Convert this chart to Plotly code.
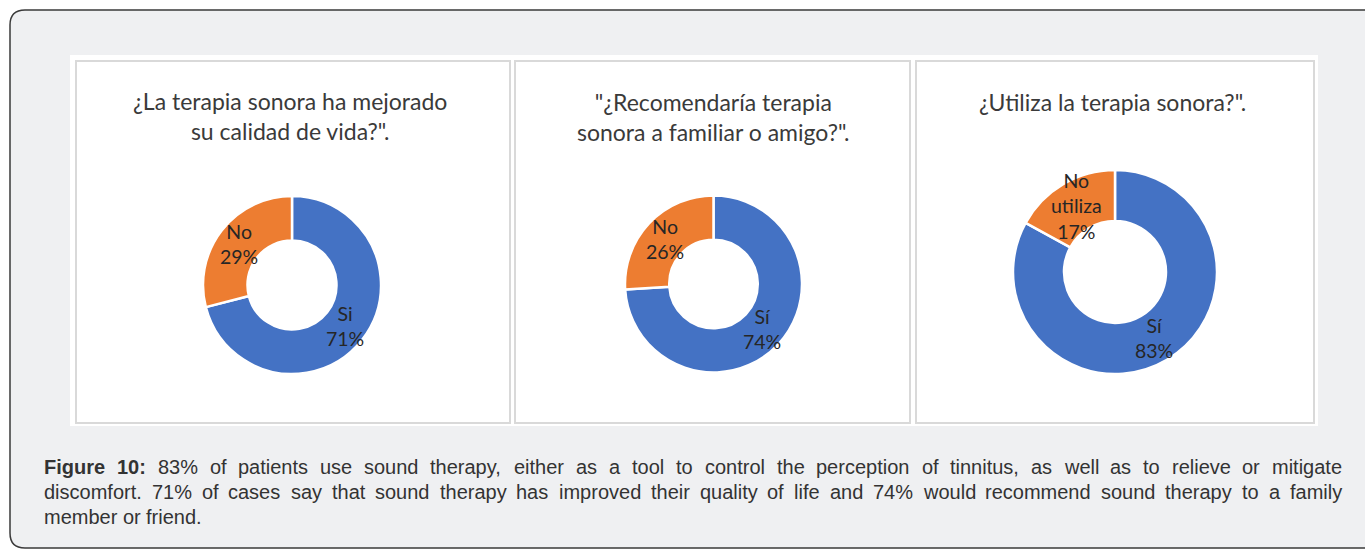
import math
import plotly.graph_objects as go

W, H = 1365, 550

# ---------------- data ----------------
chart_titles = [
    '¿La terapia sonora ha mejorado<br>su calidad de vida?".',
    '"¿Recomendaría terapia<br>sonora a familiar o amigo?".',
    '¿Utiliza la terapia sonora?".',
]
labels_1 = ['Si', 'No']
values_1 = [71, 29]
labels_2 = ['Sí', 'No']
values_2 = [74, 26]
labels_3 = ['Sí', 'No<br>utiliza']
values_3 = [83, 17]
slice_colors = ['#4472C4', '#ED7D31']

caption_bold = 'Figure 10:'
caption_lines = [
    '83% of patients use sound therapy, either as a tool to control the perception of tinnitus, as well as to relieve or mitigate',
    'discomfort. 71% of cases say that sound therapy has improved their quality of life and 74% would recommend sound therapy to a family',
    'member or friend.',
]

# ---------------- helpers ----------------
def px_x(x):
    return x / W

def px_y(y):
    return 1 - y / H

# Liberation Sans (Arial metrics) advance widths, per 1000 em
REG = {' ': 278, '%': 889, ',': 278, '.': 278, ':': 278,
       'a': 556, 'b': 556, 'c': 500, 'd': 556, 'e': 556, 'f': 278, 'g': 556,
       'h': 556, 'i': 222, 'j': 222, 'k': 500, 'l': 222, 'm': 833, 'n': 556,
       'o': 556, 'p': 556, 'q': 556, 'r': 333, 's': 500, 't': 278, 'u': 556,
       'v': 500, 'w': 722, 'x': 500, 'y': 500, 'z': 500, 'F': 611}
BOLD = {' ': 278, ':': 333, 'F': 611, 'i': 278, 'g': 611, 'u': 611,
        'r': 389, 'e': 556}

def tw(s, bold, fs):
    t = BOLD if bold else REG
    return sum(t.get(c, 556) for c in s) / 1000 * fs

fig = go.Figure()
fig.add_trace(go.Scatter(x=[], y=[], showlegend=False, hoverinfo='skip'))

shapes = []
# outer card
x0, y0, x1, y1, r = 10, 10, 1385, 548, 15
path = (f'M {x0 + r},{y0} L {x1 - r},{y0} Q {x1},{y0} {x1},{y0 + r} '
        f'L {x1},{y1 - r} Q {x1},{y1} {x1 - r},{y1} L {x0 + r},{y1} '
        f'Q {x0},{y1} {x0},{y1 - r} L {x0},{y0 + r} Q {x0},{y0} {x0 + r},{y0} Z')
shapes.append(dict(type='path', path=path, xref='x', yref='y', layer='below',
                   fillcolor='#eff0f2', line=dict(color='#3a3a3a', width=1.5)))
# white image area
shapes.append(dict(type='rect', x0=70, y0=55, x1=1318, y1=426, xref='x', yref='y',
                   layer='below', fillcolor='#ffffff', line=dict(width=0)))
# panels
panels = [(76, 61, 510, 423), (515, 61, 910, 423), (916, 61, 1314, 423)]
for (a, b, c, d) in panels:
    shapes.append(dict(type='rect', x0=a, y0=b, x1=c, y1=d, xref='x', yref='y',
                       layer='below', fillcolor='#ffffff',
                       line=dict(color='#d9d9d9', width=2)))

annotations = []

# donuts
HOLE = 0.5
LABEL_FS = 19.5
donut_boxes = [(203, 195, 381, 375), (625, 195, 802, 373), (1013, 170, 1217, 374)]
series = [(labels_1, values_1), (labels_2, values_2), (labels_3, values_3)]
for (lab, val), (a, b, c, d) in zip(series, donut_boxes):
    fig.add_trace(go.Pie(
        labels=lab, values=val, hole=HOLE, sort=False, direction='clockwise',
        rotation=0, marker=dict(colors=slice_colors, line=dict(color='white', width=2.5)),
        textinfo='none',
        domain=dict(x=[px_x(a), px_x(c)], y=[px_y(d), px_y(b)]),
        showlegend=False, hoverinfo='skip'))
    # data labels at the middle of each ring segment
    cx, cy = (a + c) / 2, (b + d) / 2
    R = min(c - a, d - b) / 2
    rm = R * (1 + HOLE) / 2
    total = sum(val)
    cum = 0
    for l, v in zip(lab, val):
        f = (cum + v / 2) / total
        cum += v
        th = 2 * math.pi * f
        annotations.append(dict(
            x=cx + rm * math.sin(th), y=cy - rm * math.cos(th), xref='x', yref='y',
            text=f'{l}<br>{round(100 * v / total)}%', showarrow=False,
            xanchor='center', yanchor='middle', align='center',
            font=dict(family='Lato', size=LABEL_FS, color='#262626')))

title_pos = [(290, 116), (713, 117), (1112, 102)]
for t, (x, y) in zip(chart_titles, title_pos):
    annotations.append(dict(x=x, y=y, xref='x', yref='y', text=t, showarrow=False,
                            xanchor='center', yanchor='middle', align='center',
                            font=dict(family='Lato', size=23, color='#3a3a3a')))

# caption (justified)
FS = 20
left, right = 43, 1341
baselines = [474, 499, 524]
for i, line in enumerate(caption_lines):
    words = [(w, False) for w in line.split()]
    if i == 0:
        words = [(w, True) for w in caption_bold.split()] + words
    widths = [tw(w, b, FS) for w, b in words]
    if i < len(caption_lines) - 1:
        gap = (right - left - sum(widths)) / (len(words) - 1)
    else:
        gap = tw(' ', False, FS)
    x = left
    for (w, b), wd in zip(words, widths):
        annotations.append(dict(x=x, y=baselines[i] - 0.35 * FS, xref='x', yref='y',
                                text=f'<b>{w}</b>' if b else w, showarrow=False,
                                xanchor='left', yanchor='middle', borderpad=0,
                                font=dict(family='Liberation Sans', size=FS, color='#333333')))
        x += wd + gap

fig.update_layout(
    width=W, height=H, margin=dict(l=0, r=0, t=0, b=0),
    paper_bgcolor='#ffffff', plot_bgcolor='rgba(0,0,0,0)',
    xaxis=dict(range=[0, W], visible=False, fixedrange=True),
    yaxis=dict(range=[H, 0], visible=False, fixedrange=True),
    shapes=shapes, annotations=annotations,
    showlegend=False,
)

fig.write_html('out.html', config={'displayModeBar': False},
               post_script="document.body.style.margin='0';")
